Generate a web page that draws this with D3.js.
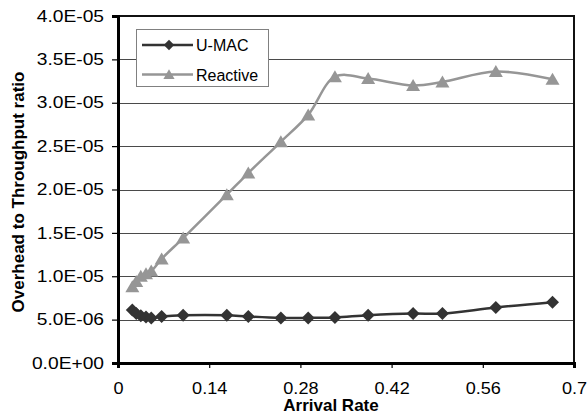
<!DOCTYPE html>
<html><head><meta charset="utf-8">
<script src="https://cdn.jsdelivr.net/npm/d3@7"></script>
<style>body{margin:0;background:#fff}svg{display:block}</style>
</head><body>
<svg id="c" width="587" height="417"></svg>
<script>
const arrivalRate = [0.022,0.028,0.035,0.043,0.051,0.067,0.1,0.167,0.2,0.25,0.292,0.333,0.384,0.453,0.498,0.58,0.667];
const umac =     [6.1e-6,5.7e-6,5.45e-6,5.3e-6,5.2e-6,5.35e-6,5.5e-6,5.5e-6,5.35e-6,5.2e-6,5.2e-6,5.25e-6,5.5e-6,5.7e-6,5.7e-6,6.4e-6,7.0e-6];
const reactive = [8.8e-6,9.4e-6,1.0e-5,1.03e-5,1.06e-5,1.2e-5,1.44e-5,1.94e-5,2.19e-5,2.55e-5,2.86e-5,3.3e-5,3.28e-5,3.2e-5,3.24e-5,3.36e-5,3.27e-5];
const seriesNames = ["U-MAC","Reactive"];
const xTicks = [0,0.14,0.28,0.42,0.56,0.7];
const xTickLabels = ["0","0.14","0.28","0.42","0.56","0.7"];
const yTicks = [0,5e-6,1e-5,1.5e-5,2e-5,2.5e-5,3e-5,3.5e-5,4e-5];
const yTickLabels = ["0.0E+00","5.0E-06","1.0E-05","1.5E-05","2.0E-05","2.5E-05","3.0E-05","3.5E-05","4.0E-05"];
const xTitle = "Arrival Rate";
const yTitle = "Overhead to Throughput ratio";

const svg = d3.select("#c");
const L=118, R=574, T=16, B=363;
const x = d3.scaleLinear().domain([0,0.7]).range([L,R]);
const y = d3.scaleLinear().domain([0,4e-5]).range([B,T]);
const font = "'Liberation Sans', Arial, sans-serif";

// gridlines
svg.append("g").selectAll("line").data(yTicks.slice(1,-1)).join("line")
  .attr("x1",L).attr("x2",R).attr("y1",d=>Math.round(y(d))+0.5).attr("y2",d=>Math.round(y(d))+0.5)
  .attr("stroke","#4a4a4a").attr("stroke-width",1);

// frame
svg.append("rect").attr("x",L).attr("y",T).attr("width",R-L).attr("height",B-T)
  .attr("fill","none").attr("stroke","#111").attr("stroke-width",2);

// axes
const yAxis = d3.axisLeft(y).tickValues(yTicks).tickSize(6).tickFormat((d,i)=>yTickLabels[i]).tickPadding(8);
const gy = svg.append("g").attr("transform",`translate(${L},0)`).call(yAxis);
const xAxis = d3.axisBottom(x).tickValues(xTicks).tickSize(5).tickFormat((d,i)=>xTickLabels[i]).tickPadding(15);
const gx = svg.append("g").attr("transform",`translate(0,${B})`).call(xAxis);
[gx,gy].forEach(g=>{
  g.select(".domain").attr("stroke","#000").attr("stroke-width",3);
  g.selectAll(".tick line").attr("stroke","#000").attr("stroke-width",1.2);
  g.selectAll("text").attr("font-family",font).attr("font-size",16).attr("fill","#000");
});
gy.selectAll(".tick text").each(function(){
  const w=this.getComputedTextLength();
  d3.select(this).attr("textLength",w*1.2).attr("lengthAdjust","spacingAndGlyphs");
});
gx.selectAll(".tick text").each(function(){
  const w=this.getComputedTextLength();
  d3.select(this).attr("textLength",w*1.13).attr("lengthAdjust","spacingAndGlyphs");
});

// titles
svg.append("text").attr("x",331).attr("y",411).attr("text-anchor","middle")
  .attr("font-family",font).attr("font-weight","bold").attr("font-size",17).text(xTitle);
svg.append("text").attr("transform","translate(24,192) rotate(-90)").attr("text-anchor","middle")
  .attr("font-family",font).attr("font-weight","bold").attr("font-size",17).text(yTitle);

const diamond = "M0,-6.5L6.5,0L0,6.5L-6.5,0Z";
const triangle = "M0,-6.5L7,5.5L-7,5.5Z";
const curve = d3.curveCatmullRom.alpha(0.5);
const line = d3.line().x(d=>x(d[0])).y(d=>y(d[1])).curve(curve);

const series = [
  {name:seriesNames[0], vals:umac, color:"#333333", sym:diamond},
  {name:seriesNames[1], vals:reactive, color:"#969696", sym:triangle}
];
series.forEach(s=>{
  const pts = arrivalRate.map((a,i)=>[a,s.vals[i]]);
  svg.append("path").attr("d",line(pts)).attr("fill","none").attr("stroke",s.color).attr("stroke-width",2.5);
  svg.append("g").selectAll("path").data(pts).join("path")
    .attr("transform",d=>`translate(${x(d[0])},${y(d[1])})`).attr("d",s.sym).attr("fill",s.color);
});

// legend
const lg = svg.append("g");
lg.append("rect").attr("x",136.5).attr("y",29.5).attr("width",132).attr("height",57)
  .attr("fill","#fff").attr("stroke","#808080").attr("stroke-width",1);
series.forEach((s,i)=>{
  const ly = 45 + i*29.5;
  lg.append("line").attr("x1",142).attr("x2",193).attr("y1",ly).attr("y2",ly).attr("stroke",s.color).attr("stroke-width",2.5);
  lg.append("path").attr("transform",`translate(169,${ly}) scale(0.8)`).attr("d",s.sym).attr("fill",s.color);
  lg.append("text").attr("x",196).attr("y",ly+6).attr("font-family",font).attr("font-size",16).text(s.name);
});
</script>
</body></html>
